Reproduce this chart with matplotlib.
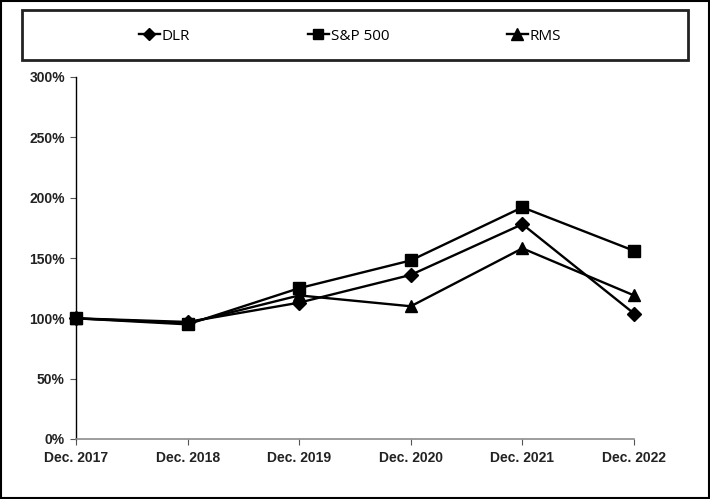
import matplotlib.pyplot as plt
from matplotlib.patches import Rectangle
from matplotlib.ticker import FuncFormatter

# values (% of Dec. 2017 value)
periods = ["Dec. 2017", "Dec. 2018", "Dec. 2019", "Dec. 2020", "Dec. 2021", "Dec. 2022"]
dlr = [100, 97, 113, 136, 178, 104]
sp500 = [100, 95, 125, 148, 192, 156]
rms = [100, 96, 119, 110, 158, 119]
y_ticks = [0, 50, 100, 150, 200, 250, 300]

plt.rcParams["font.family"] = ["Liberation Sans", "DejaVu Sans"]

fig = plt.figure(figsize=(7.10, 4.99), dpi=100)
ax = fig.add_axes([76 / 710, 1 - 439 / 499, (634 - 76) / 710, (439 - 77) / 499])

x = list(range(len(periods)))
line_kw = dict(color="black", linewidth=1.7, clip_on=False)
l1, = ax.plot(x, dlr, marker="D", markersize=7, **line_kw)
l2, = ax.plot(x, sp500, marker="s", markersize=8, **line_kw)
l3, = ax.plot(x, rms, marker="^", markersize=9, **line_kw)

ax.set_xlim(0, len(periods) - 1)
ax.set_ylim(0, 300)
ax.set_yticks(y_ticks)
ax.yaxis.set_major_formatter(FuncFormatter(lambda v, _: f"{v:.0f}%"))
ax.set_xticks(x)
ax.set_xticklabels(periods)

for spine in ("top", "right"):
    ax.spines[spine].set_visible(False)
ax.spines["left"].set_color("black")
ax.spines["left"].set_linewidth(1.0)
ax.spines["bottom"].set_color("#8c8c8c")
ax.spines["bottom"].set_linewidth(1.2)

ax.tick_params(axis="y", direction="out", length=4, width=0.8, color="#555555", pad=4)
ax.tick_params(axis="x", direction="out", length=4, width=0.8, color="#555555", pad=5)
for lab in ax.get_xticklabels() + ax.get_yticklabels():
    lab.set_fontweight("bold")
    lab.set_fontsize(10)
    lab.set_color("#222222")

# legend box across the top
leg_box = Rectangle((22 / 710, 1 - 60 / 499), (688 - 22) / 710, 50 / 499,
                    transform=fig.transFigure, fill=False, edgecolor="#222222", linewidth=2.0)
fig.patches.append(leg_box)
fig.legend([l1, l2, l3], ["DLR", "S&P 500", "RMS"], loc="center",
           bbox_to_anchor=(350 / 710, 1 - 36 / 499), ncol=3, frameon=False,
           handlelength=1.4, handletextpad=0.1, columnspacing=7.7, markerscale=0.9,
           prop={"family": "Open Sans", "size": 11})

# outer frame
fig.patches.append(Rectangle((0.001, 0.002), 0.997, 0.996, transform=fig.transFigure,
                             fill=False, edgecolor="black", linewidth=1.5))

fig.savefig("out.png", dpi=100)
